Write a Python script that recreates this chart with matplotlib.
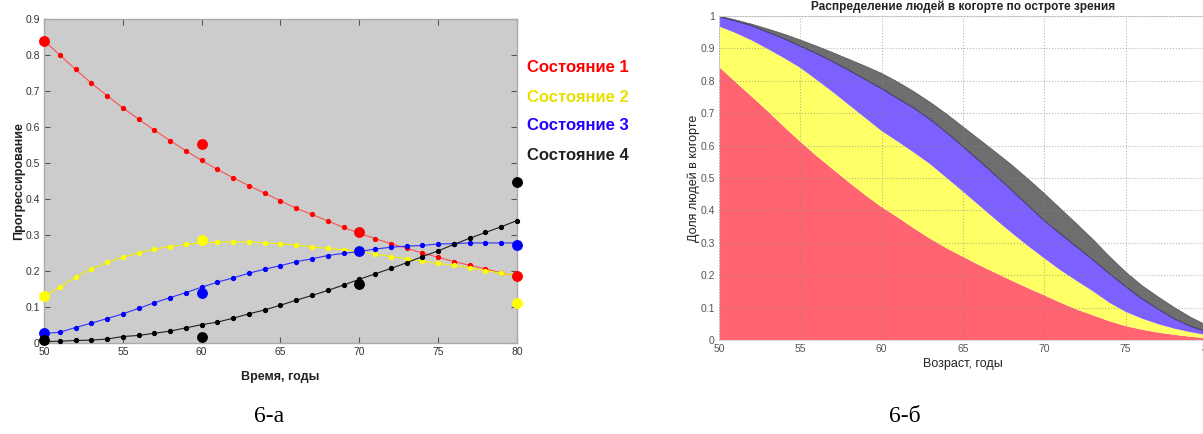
import matplotlib
matplotlib.use("Agg")
import matplotlib.pyplot as plt
import numpy as np

# ---------------- data: panel 6-а ----------------
years_fit = list(range(50, 81))
red_fit = [0.840, 0.800, 0.760, 0.722, 0.687, 0.653, 0.622, 0.591, 0.562, 0.534, 0.507,
           0.482, 0.459, 0.437, 0.416, 0.395, 0.374, 0.357, 0.339, 0.321, 0.305,
           0.290, 0.276, 0.263, 0.250, 0.238, 0.226, 0.216, 0.206, 0.195, 0.186]
yellow_fit = [0.128, 0.156, 0.183, 0.205, 0.224, 0.238, 0.251, 0.261, 0.268, 0.274, 0.278,
              0.280, 0.281, 0.281, 0.278, 0.276, 0.272, 0.267, 0.263, 0.259, 0.255,
              0.247, 0.240, 0.234, 0.228, 0.221, 0.216, 0.209, 0.201, 0.194, 0.187]
blue_fit = [0.026, 0.030, 0.043, 0.055, 0.068, 0.081, 0.096, 0.112, 0.126, 0.140, 0.155,
            0.169, 0.181, 0.194, 0.205, 0.215, 0.226, 0.234, 0.243, 0.249, 0.254,
            0.261, 0.266, 0.269, 0.271, 0.275, 0.276, 0.278, 0.278, 0.278, 0.278]
black_fit = [0.004, 0.005, 0.007, 0.008, 0.011, 0.018, 0.021, 0.027, 0.033, 0.042, 0.051,
             0.058, 0.069, 0.081, 0.092, 0.105, 0.119, 0.132, 0.146, 0.161, 0.177,
             0.192, 0.207, 0.223, 0.240, 0.256, 0.274, 0.291, 0.307, 0.323, 0.340]

years_obs = [50, 60, 70, 80]
red_obs = [0.840, 0.553, 0.307, 0.185]
yellow_obs = [0.130, 0.285, 0.255, 0.111]
blue_obs = [0.027, 0.140, 0.255, 0.272]
black_obs = [0.008, 0.016, 0.164, 0.447]

state_labels = ["Состояние 1", "Состояние 2", "Состояние 3", "Состояние 4"]

# ---------------- data: panel 6-б ----------------
ages = list(range(50, 81))
share1 = [0.843, 0.797, 0.752, 0.706, 0.658, 0.612, 0.568, 0.527, 0.486, 0.447, 0.410,
          0.378, 0.344, 0.312, 0.283, 0.257, 0.231, 0.207, 0.183, 0.160, 0.138,
          0.115, 0.094, 0.076, 0.058, 0.043, 0.032, 0.023, 0.016, 0.010, 0.005]
share2 = [0.125, 0.151, 0.173, 0.192, 0.212, 0.228, 0.235, 0.238, 0.239, 0.238, 0.235,
          0.234, 0.234, 0.230, 0.217, 0.201, 0.184, 0.165, 0.147, 0.130, 0.114,
          0.100, 0.088, 0.074, 0.057, 0.044, 0.034, 0.026, 0.019, 0.014, 0.010]
share3 = [0.030, 0.037, 0.045, 0.052, 0.060, 0.067, 0.081, 0.094, 0.107, 0.119, 0.131,
          0.133, 0.137, 0.138, 0.140, 0.139, 0.138, 0.136, 0.132, 0.125, 0.116,
          0.112, 0.105, 0.097, 0.090, 0.078, 0.061, 0.046, 0.030, 0.018, 0.010]
share4 = [0.002, 0.003, 0.005, 0.010, 0.014, 0.019, 0.023, 0.028, 0.034, 0.041, 0.047,
          0.051, 0.051, 0.053, 0.057, 0.061, 0.066, 0.072, 0.078, 0.082, 0.084,
          0.078, 0.071, 0.063, 0.053, 0.045, 0.041, 0.038, 0.035, 0.028, 0.020]

W, H = 1203, 434
fig = plt.figure(figsize=(W / 100, H / 100), dpi=100)
plt.rcParams['font.family'] = ['Liberation Sans', 'DejaVu Sans']

def fx(px):
    return px / W

def fy(py):
    return 1 - py / H

# ---------------- left panel ----------------
axL = fig.add_axes([fx(44), fy(343), fx(517) - fx(44), fy(19) - fy(343)])
axL.set_facecolor("#CCCCCC")
line_cols = ["#FF5050", "#F0F000", "#3030FF", "#202020"]
mark_cols = ["#FF0000", "#FFFF00", "#0000FF", "#000000"]
fits = [red_fit, yellow_fit, blue_fit, black_fit]
obss = [red_obs, yellow_obs, blue_obs, black_obs]
for lc, mc, f in zip(line_cols, mark_cols, fits):
    axL.plot(years_fit, f, '-', color=lc, lw=0.8, marker='o', ms=2.8,
             mfc=mc, mec=mc, zorder=3, clip_on=False)
for mc, o in zip(mark_cols, obss):
    axL.plot(years_obs, o, 'o', color=mc, ms=6.8, zorder=4, clip_on=False, mec=mc)
axL.set_xlim(50, 80)
axL.set_ylim(0, 0.9)
axL.set_xticks([50, 55, 60, 65, 70, 75, 80])
axL.set_yticks(np.arange(0, 0.91, 0.1))
axL.set_yticklabels(["0", "0.1", "0.2", "0.3", "0.4", "0.5", "0.6", "0.7", "0.8", "0.9"])
axL.tick_params(direction='in', top=True, right=True, length=4, width=0.8,
                color="#555555", labelsize=7.5, labelcolor="#333333", pad=3)
for s in axL.spines.values():
    s.set_color("#AAAAAA")
    s.set_linewidth(1.0)
axL.set_xlabel("Время, годы", fontsize=9, fontweight='bold', color="#222222", labelpad=10)
axL.set_ylabel("Прогрессирование", fontsize=9, fontweight='bold', color="#222222", labelpad=0)

leg_cols = ["#FF0000", "#E8E000", "#2200FF", "#222222"]
leg_y = [68, 97, 125, 155]
for lab, c, yy in zip(state_labels, leg_cols, leg_y):
    fig.text(fx(527), fy(yy), lab, color=c, fontsize=12, fontweight='bold',
             ha='left', va='center')

# ---------------- right panel ----------------
axR = fig.add_axes([fx(719), fy(340), fx(1207) - fx(719), fy(16) - fy(340)])
fill_cols = ["#FF6470", "#FFFF66", "#7D60FF", "#6E6E6E"]
axR.stackplot(ages, share1, share2, share3, share4, colors=fill_cols, lw=0, zorder=1)
c1 = np.cumsum([share1, share2, share3, share4], axis=0)
axR.plot(ages, c1[2], color="#303060", lw=0.8, alpha=0.8, zorder=2)
axR.plot(ages, c1[3], color="#404040", lw=0.6, alpha=0.7, zorder=2)
axR.set_xlim(50, 80)
axR.set_ylim(0, 1)
axR.set_xticks([50, 55, 60, 65, 70, 75, 80])
axR.set_yticks(np.arange(0, 1.01, 0.1))
axR.set_yticklabels(["0", "0.1", "0.2", "0.3", "0.4", "0.5", "0.6", "0.7", "0.8", "0.9", "1"])
axR.grid(True, color="#888888", linestyle=':', lw=0.8, alpha=0.6, zorder=3)
axR.set_axisbelow(False)
axR.tick_params(direction='in', length=0, labelsize=7.5, labelcolor="#555555", pad=3)
for s in axR.spines.values():
    s.set_color("#DDDDDD")
    s.set_linewidth(0.8)
axR.set_title("Распределение людей в когорте по остроте зрения", fontsize=8.5,
              fontweight='bold', color="#222222", pad=4)
axR.set_xlabel("Возраст, годы", fontsize=9, color="#222222", labelpad=3)
axR.set_ylabel("Доля людей в когорте", fontsize=9, color="#222222", labelpad=0)

# ---------------- captions ----------------
fig.text(fx(269), fy(416), "6-а", fontsize=17, family=['Liberation Serif', 'DejaVu Serif'],
         ha='center', va='center', color="#000000")
fig.text(fx(905), fy(416), "6-б", fontsize=17, family=['Liberation Serif', 'DejaVu Serif'],
         ha='center', va='center', color="#000000")

fig.savefig("out.png", dpi=100)
